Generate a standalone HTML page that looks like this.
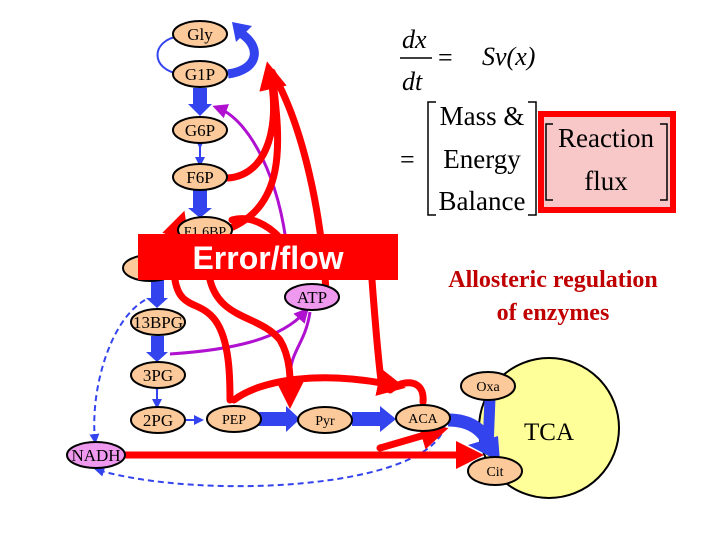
<!DOCTYPE html>
<html><head><style>
html,body{margin:0;padding:0;background:#fff;}
svg{display:block;}
text{font-family:"Liberation Serif",serif;}
</style></head><body>
<svg width="720" height="540" viewBox="0 0 720 540" xmlns="http://www.w3.org/2000/svg">
<defs>
<marker id="rh" markerWidth="4" markerHeight="4" refX="2" refY="2" orient="auto" markerUnits="strokeWidth"><path d="M0,0 L4,2 L0,4z" fill="#f00"/></marker>
<marker id="ph" markerWidth="5" markerHeight="5" refX="3" refY="2.5" orient="auto" markerUnits="strokeWidth"><path d="M0,0 L5,2.5 L0,5z" fill="#b010d0"/></marker>
<marker id="bh" markerWidth="5" markerHeight="5" refX="3" refY="2.5" orient="auto" markerUnits="strokeWidth"><path d="M0,0 L5,2.5 L0,5z" fill="#3344ee"/></marker>
</defs>
<circle cx="549" cy="428" r="70" fill="#ffff99" stroke="#000" stroke-width="2"/>
<text x="549" y="440" font-size="25" text-anchor="middle">TCA</text>
<path d="M180 36 C150 40 150 70 180 74" fill="none" stroke="#3344ee" stroke-width="2" marker-end="url(#bh)"/>
<path d="M228 74 C258 70 262 48 242 34" fill="none" stroke="#3344ee" stroke-width="9"/>
<path d="M232 22 L252 26 L236 42z" fill="#3344ee"/>
<rect x="193" y="88" width="14" height="18" fill="#3344ee"/><path d="M188 104 L212 104 L200 116z" fill="#3344ee"/>
<path d="M200 145 L200 163" stroke="#3344ee" stroke-width="2" marker-end="url(#bh)" marker-start="url(#bh)"/>
<rect x="193" y="190" width="14" height="20" fill="#3344ee"/><path d="M188 208 L212 208 L200 218z" fill="#3344ee"/>
<rect x="151" y="278" width="13" height="24" fill="#3344ee"/><path d="M146 298 L168 298 L157 308z" fill="#3344ee"/>
<rect x="151" y="336" width="13" height="20" fill="#3344ee"/><path d="M146 352 L168 352 L157 362z" fill="#3344ee"/>
<path d="M157 388 L157 405" stroke="#3344ee" stroke-width="2" marker-end="url(#bh)" marker-start="url(#bh)"/>
<path d="M186 420 L200 420" stroke="#3344ee" stroke-width="2" marker-end="url(#bh)"/>
<rect x="258" y="412" width="30" height="14" fill="#3344ee"/><path d="M286 406 L300 419 L286 432z" fill="#3344ee"/>
<rect x="352" y="412" width="30" height="14" fill="#3344ee"/><path d="M380 406 L396 419 L380 432z" fill="#3344ee"/>
<path d="M448 420 C470 420 485 430 490 448" fill="none" stroke="#3344ee" stroke-width="13"/>
<path d="M490 398 L488 448" stroke="#3344ee" stroke-width="11"/>
<path d="M468 445 L500 462 L498 436z" fill="#3344ee"/>
<path d="M145 300 C110 320 90 390 95 440" fill="none" stroke="#3344ee" stroke-width="2" stroke-dasharray="6,4" marker-end="url(#bh)"/>
<path d="M445 425 C430 490 200 500 98 470" fill="none" stroke="#3344ee" stroke-width="2" stroke-dasharray="6,4" marker-end="url(#bh)"/>
<path d="M287 250 C280 180 250 120 218 108" fill="none" stroke="#b010d0" stroke-width="3" marker-end="url(#ph)"/>
<path d="M170 354 C230 350 280 340 305 312" fill="none" stroke="#b010d0" stroke-width="3" marker-end="url(#ph)"/>
<path d="M290 378 C290 350 305 345 310 312" fill="none" stroke="#b010d0" stroke-width="3"/>
<g fill="none" stroke="#f00" stroke-width="7" stroke-linecap="round">
<path d="M228 178 C270 175 280 120 270 75" marker-end="url(#rh)"/>
<path d="M220 232 C290 210 280 140 272 72"/>
<path d="M326 290 C320 200 300 120 272 72"/>
<path d="M232 220 C250 215 268 225 280 238"/>
<path d="M173 258 C175 240 178 230 180 224" marker-end="url(#rh)"/>
<path d="M175 280 C180 310 200 300 215 320 C230 340 230 380 230 400"/>
<path d="M210 280 C220 320 260 315 280 340 C292 360 290 385 290 395" marker-end="url(#rh)"/>
<path d="M234 400 C260 380 320 370 392 385" marker-end="url(#rh)"/>
<path d="M372 280 C375 320 378 360 382 388"/>
<path d="M423 402 C425 380 405 378 390 390"/>
<path d="M123 455 L470 455" marker-end="url(#rh)"/>
<path d="M380 448 L435 432" marker-end="url(#rh)"/>
</g>
<g stroke="#000" stroke-width="2">
<ellipse cx="200" cy="34" rx="27" ry="13" fill="#fbc99a"/>
<ellipse cx="200" cy="74" rx="27" ry="13" fill="#fbc99a"/>
<ellipse cx="200" cy="130" rx="27" ry="13" fill="#fbc99a"/>
<ellipse cx="200" cy="177" rx="27" ry="13" fill="#fbc99a"/>
<ellipse cx="205" cy="230" rx="27" ry="13" fill="#fbc99a"/>
<ellipse cx="150" cy="268" rx="27" ry="13" fill="#fbc99a"/>
<ellipse cx="158" cy="322" rx="27" ry="13" fill="#fbc99a"/>
<ellipse cx="158" cy="375" rx="27" ry="13" fill="#fbc99a"/>
<ellipse cx="158" cy="420" rx="27" ry="13" fill="#fbc99a"/>
<ellipse cx="234" cy="419" rx="27" ry="13" fill="#fbc99a"/>
<ellipse cx="325" cy="420" rx="27" ry="13" fill="#fbc99a"/>
<ellipse cx="423" cy="418" rx="27" ry="13" fill="#fbc99a"/>
<ellipse cx="96" cy="455" rx="29" ry="13" fill="#ee99ee"/>
<ellipse cx="312" cy="297" rx="27" ry="13" fill="#ee99ee"/>
<ellipse cx="488" cy="386" rx="27" ry="14" fill="#fbc99a"/>
<ellipse cx="495" cy="471" rx="27" ry="14" fill="#fbc99a"/>
</g>
<g font-size="17" text-anchor="middle">
<text x="200" y="40">Gly</text><text x="200" y="80">G1P</text><text x="200" y="136">G6P</text><text x="200" y="183">F6P</text>
<text x="205" y="236" font-size="14">F1,6BP</text>
<text x="158" y="328">13BPG</text><text x="158" y="381">3PG</text><text x="158" y="426">2PG</text>
<text x="234" y="424" font-size="14">PEP</text><text x="325" y="425" font-size="14">Pyr</text><text x="423" y="423" font-size="14">ACA</text>
<text x="96" y="461">NADH</text><text x="312" y="303">ATP</text>
<text x="488" y="391" font-size="14">Oxa</text><text x="495" y="476" font-size="14">Cit</text>
</g>
<rect x="138" y="234" width="260" height="46" fill="#f00"/>
<text x="268" y="269" font-weight="bold" font-size="32" fill="#fff" text-anchor="middle" style="font-family:'Liberation Sans',sans-serif">Error/flow</text>
<g font-weight="bold" font-size="24" fill="#c00000" text-anchor="middle">
<text x="553" y="287">Allosteric regulation</text><text x="553" y="320">of enzymes</text>
</g>
<g font-size="26" font-style="italic">
<text x="402" y="48">dx</text><text x="402" y="90">dt</text>
<text x="482" y="65">Sv(x)</text>
</g>
<line x1="400" y1="58" x2="432" y2="58" stroke="#000" stroke-width="1.5"/>
<text x="438" y="66" font-size="26">=</text>
<text x="400" y="168" font-size="26">=</text>
<path d="M436 102 L428 102 L428 215 L436 215 M528 102 L536 102 L536 215 L528 215" fill="none" stroke="#000" stroke-width="1.5"/>
<g font-size="27" text-anchor="middle">
<text x="482" y="125">Mass &amp;</text><text x="482" y="168">Energy</text><text x="482" y="210">Balance</text>
</g>
<rect x="541" y="114" width="132" height="96" fill="#f8c8c8" stroke="#f00" stroke-width="6"/>
<path d="M553 124 L546 124 L546 200 L553 200 M660 124 L667 124 L667 200 L660 200" fill="none" stroke="#000" stroke-width="1.5"/>
<g font-size="27" text-anchor="middle"><text x="606" y="147">Reaction</text><text x="606" y="190">flux</text></g>
</svg>
</body></html>
